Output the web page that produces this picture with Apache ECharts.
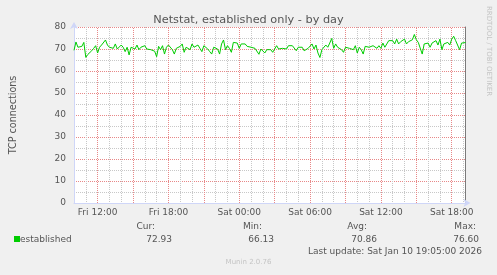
<!DOCTYPE html>
<html>
<head>
<meta charset="utf-8">
<script src="https://cdn.jsdelivr.net/npm/echarts@6/dist/echarts.min.js"></script>
<style>
html,body{margin:0;padding:0;background:#f0f0f0;}
#chart{width:497px;height:275px;}
</style>
</head>
<body>
<div id="chart"></div>
<script>
// ---- data ----
const titleText = 'Netstat, established only - by day';
const yAxisName = 'TCP connections';
const seriesName = 'established';
// minutes since Fri 00:00; one sample every 10 minutes
const xStartMinute = 600;      // Fri 10:00
const stepMinutes = 10;
const xTickMinutes = [720, 1080, 1440, 1800, 2160, 2520];
const xTickLabels = ['Fri 12:00', 'Fri 18:00', 'Sat 00:00', 'Sat 06:00', 'Sat 12:00', 'Sat 18:00'];
const xMajorGridMinutes = [720, 900, 1080, 1260, 1440, 1620, 1800, 1980, 2160, 2340, 2520];
const yTicks = [0, 10, 20, 30, 40, 50, 60, 70, 80];
const established = [
  69.4, 73.2, 70.8, 70.3, 71.2, 73.0, 66.2, 67.5, 67.7, 69.2,
  70.3, 71.5, 68.2, 70.8, 71.8, 71.2, 74.1, 71.8, 70.8, 71.5,
  70.3, 72.3, 70.0, 69.2, 71.8, 70.8, 68.8, 70.8, 67.3, 70.8,
  71.5, 70.0, 71.8, 69.7, 70.8, 70.3, 71.5, 70.0, 70.8, 69.7,
  68.8, 69.0, 66.5, 71.2, 69.7, 71.5, 67.7, 70.8, 71.8, 71.2,
  69.7, 67.7, 70.3, 70.0, 71.2, 72.3, 68.5, 70.8, 71.5, 69.7,
  72.3, 70.8, 71.2, 71.8, 70.3, 68.8, 71.5, 70.8, 70.0, 68.8,
  67.7, 70.8, 71.2, 70.0, 67.7, 72.3, 74.1, 69.7, 71.5, 70.3,
  68.5, 73.0, 73.3, 72.7, 70.3, 72.3, 71.8, 72.3, 71.2, 71.8,
  70.8, 71.5, 70.3, 71.2, 67.6, 70.0, 70.8, 68.2, 69.7, 69.2,
  69.7, 68.5, 68.2, 71.5, 70.0, 70.3, 70.3, 71.2, 70.0, 71.5,
  70.8, 71.5, 70.8, 69.2, 70.8, 70.0, 70.8, 69.2, 70.0, 70.3,
  69.7, 72.3, 70.0, 71.8, 68.2, 66.13, 69.7, 70.3, 71.8, 70.8,
  72.7, 74.8, 70.3, 72.3, 70.8, 71.2, 69.7, 68.5, 70.8, 70.0,
  70.3, 70.8, 69.7, 71.5, 68.2, 70.8, 69.7, 67.7, 71.2, 71.5,
  70.8, 70.3, 71.5, 72.3, 70.3, 71.5, 70.3, 72.7, 70.8, 70.3,
  73.8, 73.0, 73.8, 72.3, 74.5, 72.3, 73.3, 72.7, 74.5, 72.3,
  73.3, 72.7, 74.2, 76.6, 74.2, 73.0, 72.3, 67.7, 72.3, 71.5,
  72.7, 70.8, 72.7, 71.8, 73.8, 71.8, 74.5, 69.7, 72.3, 73.0,
  73.0, 71.8, 74.5, 75.8, 73.8, 74.5, 69.7, 72.7, 72.3, 72.93
];
const statLabels = ['Cur:', 'Min:', 'Avg:', 'Max:'];
const statValues = ['72.93', '66.13', '70.86', '76.60'];
const lastUpdate = 'Last update: Sat Jan 10 19:05:00 2026';
const footerText = 'Munin 2.0.76';
const sideText = 'RRDTOOL / TOBI OETIKER';

// ---- chart ----
const FONT = 'DejaVu Sans';
const TXT = '#555555';
const GRIDMINOR = '#c8c8c8';
const GRIDMAJOR = '#e88888';
const DASH = [1, 1];
const AXIS = '#cfd6f8';
const LINE = '#00cc00';

const seriesData = established.map((v, i) => [xStartMinute + i * stepMinutes, v]);
const xMax = xStartMinute + (established.length - 1) * stepMinutes;

const statLabelRight = [155, 262, 367, 476];
const statValueRight = [172, 274, 377, 479];
const graphics = [
  { type: 'rect', shape: { x: 14, y: 236, width: 6, height: 6 }, style: { fill: LINE } },
  { type: 'text', x: 20, y: 239.5, style: { text: seriesName, font: '9px ' + FONT, fill: TXT, textVerticalAlign: 'middle' } },
  { type: 'text', x: 482, y: 251.5, style: { text: lastUpdate, font: '9px ' + FONT, fill: TXT, textAlign: 'right', textVerticalAlign: 'middle' } },
  { type: 'text', x: 248.5, y: 262, style: { text: footerText, font: '7px ' + FONT, fill: '#c4c4c4', textAlign: 'center', textVerticalAlign: 'middle' } },
  { type: 'text', x: 488.5, y: 51, rotation: -Math.PI / 2, style: { text: sideText, font: '7px ' + FONT, fill: '#c4c4c4', textAlign: 'center', textVerticalAlign: 'middle' } }
];
statLabels.forEach((s, i) => {
  graphics.push({ type: 'text', x: statLabelRight[i], y: 227, style: { text: s, font: '9px ' + FONT, fill: TXT, textAlign: 'right', textVerticalAlign: 'middle' } });
  graphics.push({ type: 'text', x: statValueRight[i], y: 239.5, style: { text: statValues[i], font: '9px ' + FONT, fill: TXT, textAlign: 'right', textVerticalAlign: 'middle' } });
});

const chart = echarts.init(document.getElementById('chart'), null, { renderer: 'canvas' });
chart.setOption({
  animation: false,
  backgroundColor: '#f0f0f0',
  title: {
    text: titleText, left: 'center', top: 15, padding: 0,
    textStyle: { fontFamily: FONT, fontSize: 11.3, fontWeight: 'normal', color: TXT }
  },
  grid: {
    left: 67.5, top: 27, width: 398, height: 176,
    show: true, backgroundColor: '#ffffff', borderWidth: 0
  },
  xAxis: {
    type: 'value', min: xStartMinute, max: xMax, interval: 60,
    axisLine: { show: true, symbol: ['none', 'arrow'], symbolSize: [6, 7], symbolOffset: [0, 5], lineStyle: { color: AXIS, width: 1 } },
    axisTick: { show: false },
    axisLabel: {
      margin: 5, fontFamily: FONT, fontSize: 9, color: TXT,
      formatter: v => { const k = xTickMinutes.indexOf(v); return k >= 0 ? xTickLabels[k] : ''; }
    },
    // hourly minor lines; the 3-hour marks are left blank here and drawn red by markLine
    splitLine: { show: true, lineStyle: { color: [GRIDMINOR, GRIDMINOR, 'rgba(0,0,0,0)'], type: DASH, width: 1 } }
  },
  yAxis: [{
    type: 'value', min: yTicks[0], max: yTicks[yTicks.length - 1], interval: 10,
    name: yAxisName, nameLocation: 'middle', nameGap: 56, nameRotate: 90,
    nameTextStyle: { fontFamily: FONT, fontSize: 9.6, color: TXT },
    axisLine: { show: true, symbol: ['none', 'arrow'], symbolSize: [6, 7], symbolOffset: [0, 5], lineStyle: { color: AXIS, width: 1 } },
    axisTick: { show: false },
    axisLabel: { margin: 8, fontFamily: FONT, fontSize: 9, color: TXT },
    splitLine: { show: true, showMinLine: false, lineStyle: { color: GRIDMAJOR, type: DASH, width: 1 } },
    minorTick: { show: false, splitNumber: 2 },
    minorSplitLine: { show: true, lineStyle: { color: GRIDMINOR, type: DASH, width: 1 } }
  }, {
    type: 'value', position: 'right', min: 0, max: 80,
    axisLine: { show: true, lineStyle: { color: '#7a7a7a', width: 1 } },
    axisTick: { show: false }, axisLabel: { show: false }, splitLine: { show: false }
  }],
  series: [{
    name: seriesName, type: 'line', data: seriesData, showSymbol: false, symbol: 'none',
    lineStyle: { color: LINE, width: 1 }, z: 5
  }, {
    name: 'major-grid', type: 'line', data: [], z: 1, silent: true,
    markLine: {
      silent: true, symbol: 'none', label: { show: false }, animation: false,
      lineStyle: { color: GRIDMAJOR, type: DASH, width: 1 },
      emphasis: { disabled: true },
      data: xMajorGridMinutes.map(m => ({ xAxis: m }))
    }
  }],
  graphic: graphics
});
</script>
</body>
</html>
